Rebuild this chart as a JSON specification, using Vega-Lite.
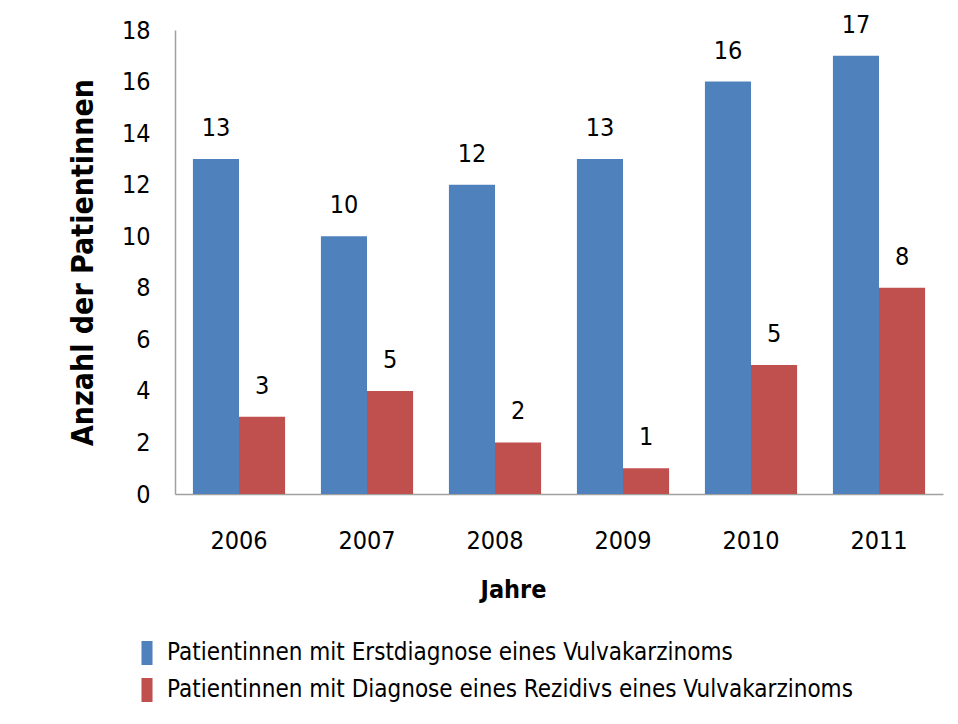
{
  "$schema": "https://vega.github.io/schema/vega-lite/v6.json",
  "autosize": "none",
  "width": 768,
  "height": 464,
  "padding": {"left": 175, "top": 30, "right": 15, "bottom": 230},
  "background": "white",
  "config": {
    "view": {"stroke": null},
    "font": "DejaVu Sans Condensed, sans-serif"
  },
  "data": {
    "values": [
      {"Jahr": "2006", "Serie": "Patientinnen mit Erstdiagnose eines Vulvakarzinoms", "Anzahl": 13, "Label": "13"},
      {"Jahr": "2006", "Serie": "Patientinnen mit Diagnose eines Rezidivs eines Vulvakarzinoms", "Anzahl": 3, "Label": "3"},
      {"Jahr": "2007", "Serie": "Patientinnen mit Erstdiagnose eines Vulvakarzinoms", "Anzahl": 10, "Label": "10"},
      {"Jahr": "2007", "Serie": "Patientinnen mit Diagnose eines Rezidivs eines Vulvakarzinoms", "Anzahl": 4, "Label": "5"},
      {"Jahr": "2008", "Serie": "Patientinnen mit Erstdiagnose eines Vulvakarzinoms", "Anzahl": 12, "Label": "12"},
      {"Jahr": "2008", "Serie": "Patientinnen mit Diagnose eines Rezidivs eines Vulvakarzinoms", "Anzahl": 2, "Label": "2"},
      {"Jahr": "2009", "Serie": "Patientinnen mit Erstdiagnose eines Vulvakarzinoms", "Anzahl": 13, "Label": "13"},
      {"Jahr": "2009", "Serie": "Patientinnen mit Diagnose eines Rezidivs eines Vulvakarzinoms", "Anzahl": 1, "Label": "1"},
      {"Jahr": "2010", "Serie": "Patientinnen mit Erstdiagnose eines Vulvakarzinoms", "Anzahl": 16, "Label": "16"},
      {"Jahr": "2010", "Serie": "Patientinnen mit Diagnose eines Rezidivs eines Vulvakarzinoms", "Anzahl": 5, "Label": "5"},
      {"Jahr": "2011", "Serie": "Patientinnen mit Erstdiagnose eines Vulvakarzinoms", "Anzahl": 17, "Label": "17"},
      {"Jahr": "2011", "Serie": "Patientinnen mit Diagnose eines Rezidivs eines Vulvakarzinoms", "Anzahl": 8, "Label": "8"}
    ]
  },
  "encoding": {
    "x": {
      "field": "Jahr", "type": "nominal",
      "scale": {"paddingInner": 0.28, "paddingOuter": 0.14},
      "axis": {
        "title": "Jahre", "labelAngle": 0, "ticks": false, "tickSize": 0,
        "domainColor": "#a0a0a0", "domainWidth": 1.5,
        "labelFontSize": 25, "labelColor": "#000", "labelPadding": 34,
        "titleFontSize": 25, "titleFontWeight": "bold", "titleColor": "#000", "titlePadding": 24,
        "titleX": 338, "titleAnchor": "middle"
      }
    },
    "xOffset": {
      "field": "Serie", "type": "nominal",
      "sort": ["Patientinnen mit Erstdiagnose eines Vulvakarzinoms", "Patientinnen mit Diagnose eines Rezidivs eines Vulvakarzinoms"],
      "scale": {"paddingInner": 0, "paddingOuter": 0}
    },
    "y": {
      "field": "Anzahl", "type": "quantitative",
      "scale": {"domain": [0, 18]},
      "axis": {
        "title": "Anzahl der Patientinnen", "values": [0, 2, 4, 6, 8, 10, 12, 14, 16, 18],
        "grid": false, "ticks": false, "tickSize": 0,
        "domainColor": "#a0a0a0", "domainWidth": 1.5,
        "labelFontSize": 25, "labelColor": "#000", "labelPadding": 25,
        "titleFontSize": 30, "titleFontWeight": "bold", "titleColor": "#000", "titlePadding": 23
      }
    }
  },
  "layer": [
    {
      "mark": {"type": "bar"},
      "encoding": {
        "color": {
          "field": "Serie", "type": "nominal",
          "sort": ["Patientinnen mit Erstdiagnose eines Vulvakarzinoms", "Patientinnen mit Diagnose eines Rezidivs eines Vulvakarzinoms"],
          "scale": {"range": ["#4F81BD", "#C0504D"]},
          "legend": {
            "title": null, "orient": "none", "legendX": -40, "legendY": 611,
            "direction": "vertical",
            "symbolType": "M-0.46,-1H0.46V1H-0.46Z", "symbolSize": 576,
            "symbolStrokeWidth": 0, "symbolOpacity": 1,
            "labelFontSize": 24, "labelColor": "#000", "labelOffset": 8,
            "rowPadding": 13, "labelLimit": 900
          }
        }
      }
    },
    {
      "mark": {"type": "text", "baseline": "alphabetic", "dy": -23, "fontSize": 25, "color": "#000"},
      "encoding": {
        "text": {"field": "Label"}
      }
    }
  ]
}
